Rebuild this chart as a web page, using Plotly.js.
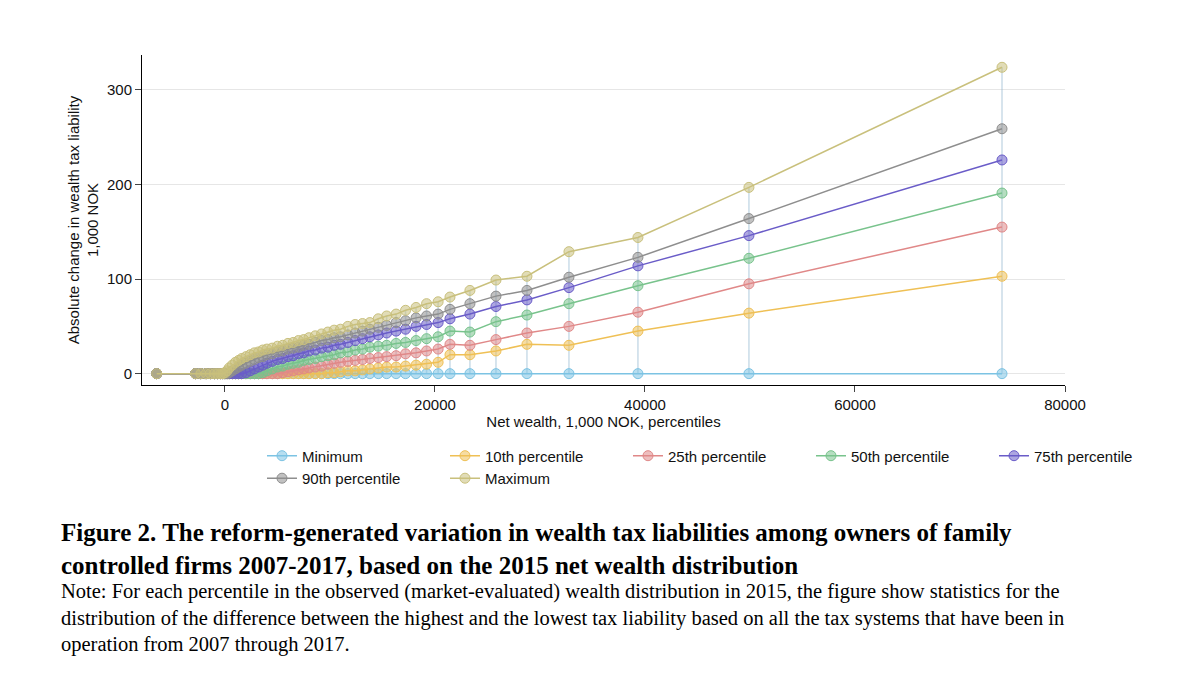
<!DOCTYPE html>
<html><head><meta charset="utf-8">
<script src="https://cdn.plot.ly/plotly-3.0.1.min.js"></script>
<style>body{margin:0;background:#fff}#c{width:1200px;height:677px}</style>
</head><body><div id="c"></div>
<script>
const xWealth=[-6500,-2800,-2300,-1800,-1400,-1000,-700,-400,-200,0,200,400,700,1000,1300,1600,2000,2400,2800,3200,3600,4000,4500,5000,5500,6000,6500,7000,7500,8000,8600,9200,9800,10400,11000,11700,12400,13100,13800,14600,15400,16300,17200,18200,19200,20300,21430,23330,25810,28760,32760,39330,49900,74000];
const sMin=xWealth.map(()=>0);
const s10=[0,0,0,0,0,0,0,0,0,0,0,0,0,0,0,0,0,0,0,0,0,0,0,0,0,0,0,0,0,0,0,0,1,1,2,3,3,4,5,6,7,7,8,9,10,12,20,20,24,31,30,45,64,103];
const s25=[0,0,0,0,0,0,0,0,0,0,0,0,0,0,0,0,0,0,0,0,0,0,0,0,1,2,3,4,5,6,7,8,10,11,12,13,14,15,16,17,18,19,21,22,24,26,31,30,36,43,50,65,95,155];
const s50=[0,0,0,0,0,0,0,0,0,0,0,0,0,0,0,0,0,0,0,0,1,3,5,7,8,10,11,12,14,15,16,18,19,20,22,23,25,26,28,29,30,32,33,35,37,39,45,44,55,62,74,93,122,191];
const s75=[0,0,0,0,0,0,0,0,0,0,0,0,0,0,0,0,1,3,5,7,9,11,13,15,16,18,19,21,22,24,25,27,28,30,31,33,35,37,39,41,43,45,47,50,52,54,58,63,71,78,91,114,146,226];
const s90=[0,0,0,0,0,0,0,0,0,0,0,1,3,5,7,9,11,13,15,17,18,20,21,23,24,26,27,28,30,31,33,35,36,38,39,41,43,45,47,49,51,54,56,59,61,63,68,74,82,88,102,123,164,259];
const sMax=[0,0,0,0,0,0,0,0,0,1,3,6,9,12,14,16,18,20,22,23,25,26,27,29,30,32,33,35,36,38,40,42,44,46,47,50,52,53,54,58,61,63,67,70,74,76,81,88,99,103,129,144,197,324];
const xTicks=[0,20000,40000,60000,80000];
const xTickText=["0","20000","40000","60000","80000"];
const names=["Minimum","10th percentile","25th percentile","50th percentile","75th percentile","90th percentile","Maximum"];
const series=[sMin,s10,s25,s50,s75,s90,sMax];
const colors=["#7cc3e3","#efc055","#e08888","#78c38c","#6a5cc8","#8e8e8e","#c9c07c"];
const fills=["rgba(124,195,227,0.55)","rgba(239,192,85,0.55)","rgba(224,136,136,0.55)","rgba(120,195,140,0.55)","rgba(106,92,200,0.55)","rgba(142,142,142,0.55)","rgba(201,192,124,0.55)"];
const vx=[],vy=[];
xWealth.forEach((x,i)=>{vx.push(x,x,null);vy.push(sMin[i],sMax[i],null);});
const traces=[{x:vx,y:vy,mode:'lines',line:{color:'rgba(150,185,210,0.5)',width:1.5},showlegend:false,hoverinfo:'skip'}];
series.forEach((s,k)=>traces.push({x:xWealth,y:s,name:names[k],mode:'lines+markers',
 line:{color:colors[k],width:1.5},marker:{size:10,color:fills[k],line:{color:colors[k],width:1}}}));
const serif="Liberation Serif, Times New Roman, serif";
const layout={width:1200,height:677,paper_bgcolor:'#fff',plot_bgcolor:'#fff',
 font:{family:"Liberation Sans, Arial, sans-serif",size:15,color:'#111'},
 margin:{l:142,r:135,t:55,b:292},
 xaxis:{range:[-7900,80000],tickvals:xTicks,ticktext:xTickText,showgrid:false,zeroline:false,showline:true,linecolor:'#000',ticks:'outside',ticklen:6,
  title:{text:"Net wealth, 1,000 NOK, percentiles",font:{size:15},standoff:2}},
 yaxis:{range:[-12,337],tickvals:[0,100,200,300],showgrid:true,gridcolor:'#e6e6e6',zeroline:false,showline:true,linecolor:'#000',ticks:'outside',ticklen:6,
  title:{text:"Absolute change in wealth tax liability<br>1,000 NOK",font:{size:15},standoff:4}},
 legend:{orientation:'h',x:0.13,y:-0.165,xanchor:'left',yanchor:'top',entrywidth:138,entrywidthmode:'pixels',font:{size:15},traceorder:'normal'},
 annotations:[
  {xref:'paper',yref:'paper',x:-0.09,y:-0.4,xanchor:'left',yanchor:'top',align:'left',showarrow:false,
   text:"<b>Figure 2. The reform-generated variation in wealth tax liabilities among owners of family<br>controlled firms 2007-2017, based on the 2015 net wealth distribution</b>",font:{family:serif,size:25,color:'#000'}},
  {xref:'paper',yref:'paper',x:-0.09,y:-0.585,xanchor:'left',yanchor:'top',align:'left',showarrow:false,
   text:"Note: For each percentile in the observed (market-evaluated) wealth distribution in 2015, the figure show statistics for the<br>distribution of the difference between the highest and the lowest tax liability based on all the tax systems that have been in<br>operation from 2007 through 2017.",font:{family:serif,size:20.5,color:'#000'}}
 ]};
Plotly.newPlot('c',traces,layout,{displayModeBar:false});
</script></body></html>
